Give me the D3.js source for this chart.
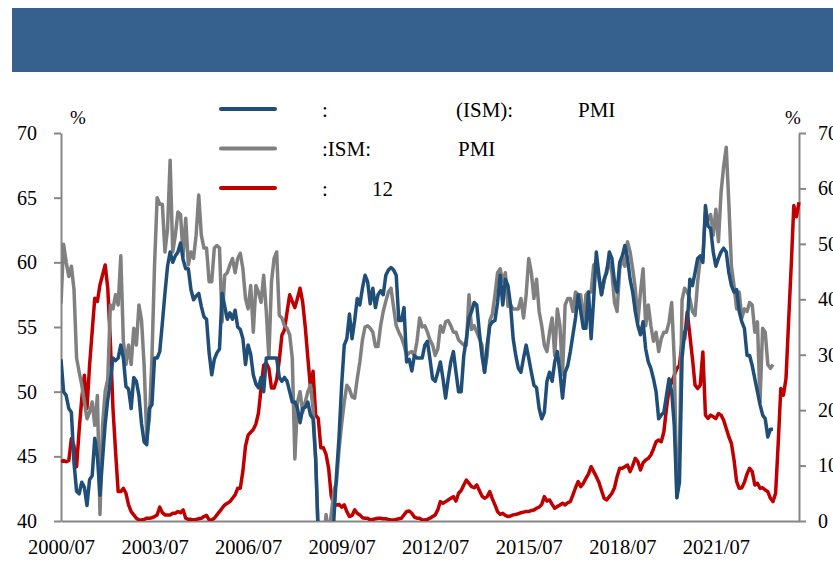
<!DOCTYPE html>
<meta charset="utf-8">
<style>
  body { margin: 0; background: #fff; }
  text { font-family: "Times New Roman", "Liberation Serif", serif; fill: #000; }
</style>
<body>
<div id="chart"></div>
<script src="https://d3js.org/d3.v7.min.js"></script>
<script>

// month categories 2000/07 .. 2024/03
var months = [];
for (var k = 0; k < 285; k++) {
  var yy = 2000 + Math.floor((6 + k) / 12), mm = (6 + k) % 12 + 1;
  months.push(yy + "/" + (mm < 10 ? "0" : "") + mm);
}
var tickLabels = ["2000/07", "2003/07", "2006/07", "2009/07", "2012/07", "2015/07", "2018/07", "2021/07"];
var leftTicks = [40, 45, 50, 55, 60, 65, 70];
var rightTicks = [0, 10, 20, 30, 40, 50, 60, 70];

// ISM manufacturing PMI, 2000/07 .. 2023/05
var mfgPMI = [
  52.5, 50.0, 49.7, 48.7, 48.4, 44.5, 42.3, 42.1, 43.0, 42.6, 41.2, 43.2,
  43.5, 46.4, 45.0, 42.0, 44.8, 47.5, 49.4, 50.8, 52.6, 52.4, 52.6, 53.6,
  52.6, 50.4, 50.2, 48.7, 51.1, 50.8, 49.7, 47.5, 46.1, 45.9, 48.7, 49.0,
  52.6, 52.6, 53.1, 55.3, 57.6, 59.7, 60.8, 60.0, 60.5, 60.8, 61.5, 60.2,
  59.5, 59.5, 57.9, 57.1, 57.4, 57.6, 56.6, 55.8, 55.6, 53.0, 51.3, 52.5,
  53.0, 53.3, 57.6, 56.6, 55.6, 56.1, 55.6, 56.3, 55.0, 54.8, 54.1, 52.1,
  53.6, 52.9, 51.3, 50.6, 50.3, 51.1, 50.0, 52.6, 52.6, 52.6, 52.6, 52.6,
  51.1, 50.8, 51.1, 50.8, 50.0, 49.2, 49.2, 48.7, 47.6, 48.7, 48.8, 49.2,
  48.2, 47.9, 44.8, 38.9, 36.2, 33.0, 35.6, 35.8, 36.3, 40.1, 43.5, 46.5,
  50.5, 53.6, 54.1, 56.0, 54.1, 55.5, 57.2, 56.7, 58.0, 59.0, 58.5, 56.8,
  58.0, 56.5, 57.5, 57.8, 57.5, 59.0, 59.4, 59.6, 59.4, 59.0, 55.5, 55.5,
  56.5, 52.3, 52.5, 51.6, 52.8, 52.6, 52.6, 52.6, 53.6, 53.9, 52.5, 51.0,
  50.8, 51.5, 52.3, 51.0, 49.5, 51.0, 52.3, 53.1, 51.5, 50.0, 50.0, 52.8,
  54.1, 55.7, 56.2, 56.9, 56.7, 54.6, 52.8, 51.5, 53.6, 55.1, 55.4, 55.5,
  56.9, 59.0, 56.7, 58.7, 58.2, 56.7, 54.1, 52.8, 51.8, 51.5, 52.6, 53.6,
  52.6, 51.5, 50.5, 50.3, 48.7, 47.9, 48.4, 50.8, 51.5, 50.8, 52.3, 53.1,
  51.5, 49.5, 51.5, 52.0, 53.1, 54.4, 55.7, 57.5, 56.2, 54.9, 54.9, 57.7,
  54.1, 57.2, 60.8, 59.0, 57.5, 58.7, 59.2, 60.8, 60.3, 58.5, 57.7, 60.0,
  60.5, 61.3, 60.3, 58.7, 57.7, 56.2, 55.1, 54.4, 55.4, 53.3, 52.3, 51.8,
  51.0, 50.0, 47.9, 48.2, 48.4, 49.7, 51.0, 50.0, 47.4, 41.8, 43.0, 52.6,
  54.6, 55.1, 58.7, 58.2, 59.2, 60.3, 60.5, 60.0, 64.4, 62.8, 62.6, 60.8,
  59.7, 60.3, 60.8, 61.1, 60.8, 59.2, 58.2, 57.7, 57.9, 56.2, 55.4, 54.9,
  52.8, 52.8, 52.0, 51.0, 50.0, 49.0, 48.2, 47.9, 46.5, 47.1, 47.1
];

// ISM non-manufacturing PMI, 2000/07 .. 2023/05
var nonMfgPMI = [
  56.8, 61.4, 60.0, 58.9, 59.7, 57.9, 52.6, 51.5, 50.5, 49.2, 47.9, 48.4,
  49.2, 47.4, 49.7, 40.5, 47.4, 50.0, 51.0, 56.7, 56.4, 57.5, 56.7, 60.5,
  53.9, 52.1, 53.6, 52.1, 54.9, 53.6, 56.7, 55.5, 52.0, 46.4, 47.9, 52.6,
  59.8, 65.0, 64.5, 64.5, 60.8, 62.6, 67.9, 60.8, 62.1, 63.9, 63.7, 60.5,
  63.4, 59.8, 60.8, 60.3, 62.1, 65.2, 62.1, 61.1, 61.1, 58.5, 58.5, 61.1,
  61.3, 61.1, 55.4, 59.0, 59.2, 59.8, 60.3, 59.2, 60.3, 60.7, 59.5, 57.2,
  56.4, 58.2, 54.6, 58.2, 57.7, 56.9, 59.0, 56.2, 52.6, 58.5, 60.3, 60.8,
  55.9, 55.7, 55.1, 54.9, 54.4, 52.6, 44.8, 49.2, 50.0, 48.4, 49.2, 50.0,
  50.5, 48.7, 44.8, 39.0, 37.5, 38.0, 40.5, 39.0, 40.5, 42.3, 43.0, 45.5,
  47.5, 49.2, 50.5, 50.2, 49.6, 49.5, 51.0, 52.3, 54.0, 55.0, 55.1, 54.9,
  54.6, 53.5, 53.5, 55.1, 56.2, 57.0, 57.7, 58.0, 56.5, 55.1, 54.6, 54.2,
  53.6, 52.8, 53.0, 53.1, 52.8, 53.9, 55.7, 55.0, 55.1, 54.6, 54.0, 53.6,
  52.8, 53.3, 55.1, 54.6, 55.4, 55.5, 55.1, 54.6, 54.6, 54.0, 53.8, 53.6,
  53.6, 57.5, 54.8, 55.1, 54.6, 54.1, 53.6, 51.5, 52.8, 55.5, 56.0, 57.5,
  59.2, 59.5, 58.5, 59.2, 56.6, 56.7, 56.4, 56.4, 56.4, 57.2, 55.7, 57.5,
  60.3, 59.2, 57.2, 58.7, 56.2, 55.1, 53.6, 53.1, 54.6, 55.7, 52.8, 56.4,
  55.1, 51.3, 56.7, 57.2, 57.2, 56.2, 57.7, 57.5, 57.5, 55.1, 57.5, 57.7,
  57.7, 59.8, 60.0, 58.7, 57.5, 58.5, 59.5, 60.0, 59.2, 56.9, 56.2, 59.5,
  60.3, 59.7, 61.6, 60.8, 59.5, 58.0, 55.4, 57.7, 59.5, 55.1, 56.7, 55.1,
  53.9, 54.6, 53.1, 54.1, 54.6, 54.6, 55.4, 56.9, 52.5, 41.8, 45.4, 57.1,
  58.0, 57.7, 57.2, 56.2, 55.9, 58.5, 60.3, 60.3, 63.9, 63.3, 63.7, 62.1,
  64.1, 61.6, 65.4, 67.4, 68.9, 64.6, 59.7, 58.2, 56.4, 57.7, 55.7, 56.4,
  56.2, 56.9, 56.7, 54.6, 55.4, 49.2, 54.9, 54.6, 52.1, 51.8, 52.1
];

// recession probability 12 months ahead (right axis), 2000/07 .. 2024/03
var recessionProb = [
  10.7, 10.9, 10.7, 10.9, 14.9, 13.5, 9.8, 16.5, 22.1, 26.3, 20.3, 28.1,
  34.2, 40.2, 39.6, 42.6, 44.4, 46.2, 42.0, 32.3, 20.3, 12.5, 5.3, 5.3,
  5.9, 5.0, 2.9, 1.7, 1.1, 0.5, 0.2, 0.2, 0.3, 0.5, 0.5, 0.6,
  0.8, 1.1, 2.5, 1.5, 1.1, 1.1, 1.1, 1.4, 1.4, 1.7, 1.5, 2.0,
  0.5, 0.3, 0.3, 0.2, 0.3, 0.4, 0.5, 0.8, 1.0, 0.2, 0.2, 0.5,
  1.1, 1.7, 2.3, 2.9, 3.2, 3.5, 4.1, 4.7, 5.9, 5.9, 9.0, 13.5,
  15.5, 16.0, 16.5, 17.5, 19.5, 24.0, 28.1, 28.5, 27.5, 24.0, 24.0, 25.5,
  29.0, 33.5, 34.5, 37.7, 40.8, 39.6, 38.5, 40.2, 42.0, 39.5, 35.0, 29.4,
  24.0, 27.0, 19.1, 18.5, 13.2, 13.2, 12.0, 9.5, 4.5, 3.0, 2.9, 3.0,
  2.5, 2.9, 1.7, 0.8, 1.0, 2.0, 1.4, 1.1, 0.6, 0.5, 0.5, 0.2,
  0.3, 0.4, 0.5, 0.5, 0.4, 0.4, 0.3, 0.2, 0.2, 0.3, 0.4, 0.5,
  1.1, 1.7, 1.8, 1.4, 0.7, 0.5, 0.5, 0.2, 0.2, 0.3, 0.5, 0.8,
  1.1, 2.0, 3.5, 3.2, 3.5, 3.8, 4.1, 4.4, 3.6, 5.0, 5.5, 6.5,
  7.4, 6.8, 6.2, 6.0, 6.5, 5.5, 4.5, 4.1, 4.4, 5.3, 4.0, 2.9,
  1.7, 1.2, 1.4, 1.0, 0.8, 0.9, 1.1, 1.2, 1.3, 1.5, 1.6, 1.7,
  1.7, 1.9, 2.0, 2.3, 2.5, 3.0, 4.4, 3.6, 3.8, 3.0, 2.3, 2.6,
  2.9, 3.2, 2.9, 3.3, 3.5, 4.7, 6.0, 7.1, 6.2, 6.8, 7.7, 8.5,
  9.8, 8.9, 8.0, 7.0, 5.5, 4.1, 3.8, 4.4, 5.0, 6.0, 8.0, 9.5,
  9.5, 9.8, 10.1, 8.9, 10.0, 11.3, 10.7, 9.2, 10.5, 11.0, 11.3, 11.9,
  13.0, 14.3, 14.6, 14.3, 16.1, 20.3, 23.9, 25.0, 26.3, 27.5, 28.1, 32.3,
  32.9, 37.7, 33.5, 29.3, 24.5, 23.9, 24.5, 30.5, 19.1, 18.5, 19.1, 18.8,
  18.5, 19.4, 19.1, 18.2, 16.7, 15.2, 14.0, 11.0, 7.1, 5.9, 6.0, 7.0,
  8.5, 9.5, 8.9, 6.5, 6.8, 5.9, 6.0, 5.6, 5.3, 4.1, 3.5, 5.0,
  14.0, 23.9, 22.7, 25.7, 36.0, 46.0, 56.9, 54.9, 57.5
];

// legend: only the latin parts of the labels are visible in the reference
var legendText = [
  [":", "(ISM):", "PMI"],
  [":ISM:", "PMI"],
  [":", "12"]
];
var colors = ["#1f4e79", "#808080", "#c00000"];

var W = 833, H = 563;
var plot = {left: 61, right: 799, top: 133, bottom: 521};

var svg = d3.select("#chart").append("svg")
  .attr("width", W)
  .attr("height", H);

// header band
svg.append("rect")
  .attr("x", 12).attr("y", 8)
  .attr("width", W - 12).attr("height", 64)
  .attr("fill", "#36618f");

var x = d3.scalePoint()
  .domain(months)
  .range([plot.left, plot.right]);

var yL = d3.scaleLinear().domain([40, 70]).range([plot.bottom, plot.top]);
var yR = d3.scaleLinear().domain([0, 70]).range([plot.bottom, plot.top]);

function styleAxis(size) {
  return function(g) {
    g.selectAll("path.domain").attr("stroke", "#868686").attr("stroke-width", 2);
    g.selectAll(".tick line").attr("stroke", "#868686").attr("stroke-width", 2);
    g.selectAll("text")
      .attr("font-family", "'Times New Roman', 'Liberation Serif', serif")
      .attr("font-size", size)
      .attr("fill", "#000");
  };
}

svg.append("g")
  .attr("transform", "translate(" + plot.left + ",0)")
  .call(d3.axisLeft(yL).tickValues(leftTicks).tickSize(7).tickSizeOuter(0).tickPadding(17))
  .call(styleAxis(20));

svg.append("g")
  .attr("transform", "translate(" + plot.right + ",0)")
  .call(d3.axisRight(yR).tickValues(rightTicks).tickSize(7).tickSizeOuter(0).tickPadding(12))
  .call(styleAxis(20));

svg.append("g")
  .attr("transform", "translate(0," + plot.bottom + ")")
  .call(d3.axisBottom(x).tickValues(tickLabels).tickSize(0).tickPadding(18))
  .call(styleAxis(20.5));

svg.append("text").attr("x", 78).attr("y", 124).attr("text-anchor", "middle")
  .attr("font-size", 19).text("%");
svg.append("text").attr("x", 793).attr("y", 124).attr("text-anchor", "middle")
  .attr("font-size", 19).text("%");

svg.append("clipPath").attr("id", "plotclip")
  .append("rect")
  .attr("x", plot.left).attr("y", plot.top - 10)
  .attr("width", plot.right - plot.left + 4)
  .attr("height", plot.bottom - plot.top + 10);

var lines = svg.append("g").attr("clip-path", "url(#plotclip)");

var lineL = d3.line()
  .x(function(d, i) { return x(months[i]); })
  .y(function(d) { return yL(d); });
var lineR = d3.line()
  .x(function(d, i) { return x(months[i]); })
  .y(function(d) { return yR(d); });

lines.append("path").datum(recessionProb)
  .attr("d", lineR).attr("fill", "none")
  .attr("stroke", colors[2]).attr("stroke-width", 3.5).attr("stroke-linejoin", "round");
lines.append("path").datum(nonMfgPMI)
  .attr("d", lineL).attr("fill", "none")
  .attr("stroke", colors[1]).attr("stroke-width", 3.5).attr("stroke-linejoin", "round");
lines.append("path").datum(mfgPMI)
  .attr("d", lineL).attr("fill", "none")
  .attr("stroke", colors[0]).attr("stroke-width", 3.5).attr("stroke-linejoin", "round");

// legend
var fragX = [[322, 456, 578], [322, 458], [322, 372]];
var legend = svg.append("g");
legendText.forEach(function(parts, r) {
  var cy = 109 + r * 39.5;
  legend.append("line")
    .attr("x1", 221).attr("x2", 275)
    .attr("y1", cy).attr("y2", cy)
    .attr("stroke", colors[r]).attr("stroke-width", 4)
    .attr("stroke-linecap", "round");
  var t = legend.append("text")
    .attr("y", cy + 7.5)
    .attr("font-size", 21);
  parts.forEach(function(p, j) {
    t.append("tspan").attr("x", fragX[r][j]).text(p);
  });
});

</script>
</body>
